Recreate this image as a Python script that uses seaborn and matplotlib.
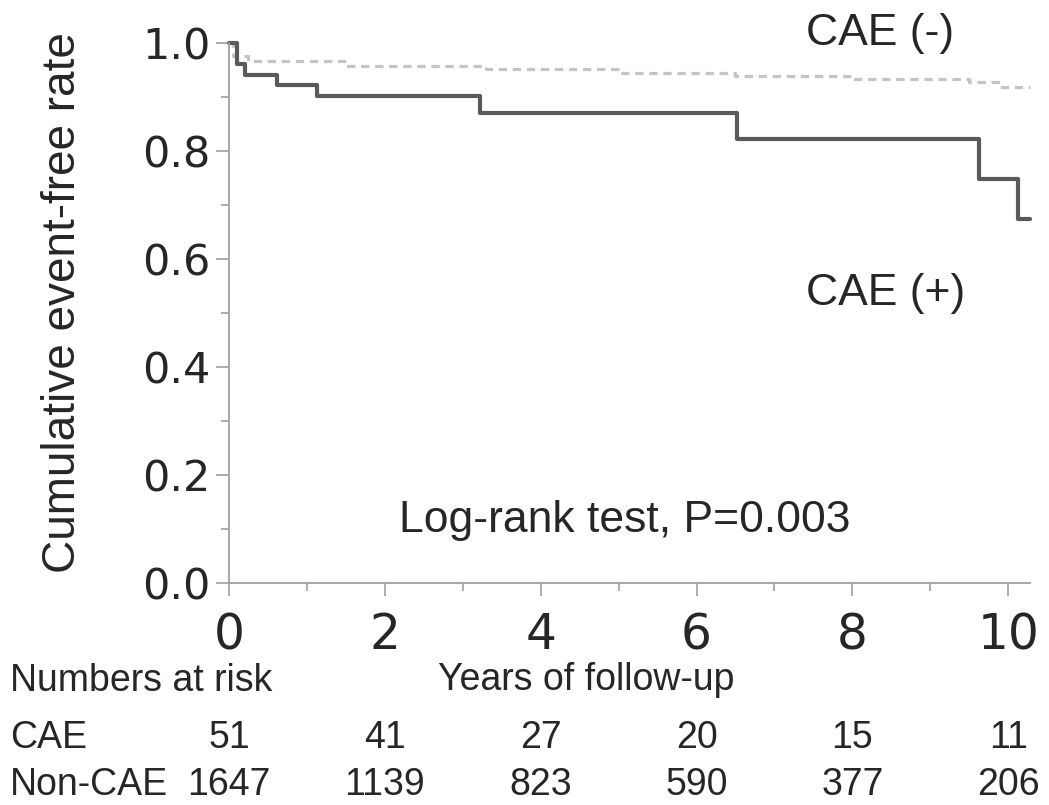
import matplotlib
matplotlib.use("Agg")
import matplotlib.pyplot as plt
import matplotlib.transforms as mtransforms
from matplotlib.ticker import MultipleLocator
import seaborn as sns
import pandas as pd

# ---- data ----
cae_pos_time = [0.0, 0.10, 0.20, 0.62, 1.13, 3.22, 6.52, 9.62, 10.13, 10.28]
cae_pos_surv = [1.0, 0.961, 0.941, 0.922, 0.902, 0.871, 0.822, 0.748, 0.674, 0.674]
cae_neg_time = [0.0, 0.05, 0.25, 1.5, 3.3, 5.0, 6.5, 8.0, 9.5, 9.9, 10.28]
cae_neg_surv = [1.0, 0.975, 0.966, 0.958, 0.952, 0.945, 0.938, 0.934, 0.928, 0.918, 0.918]
risk_years = [0, 2, 4, 6, 8, 10]
risk_cae = [51, 41, 27, 20, 15, 11]
risk_non_cae = [1647, 1139, 823, 590, 377, 206]
x_ticks = [0, 2, 4, 6, 8, 10]
y_ticks = [0.0, 0.2, 0.4, 0.6, 0.8, 1.0]

W, H = 1049, 805
sns.set_style("white")
plt.rcParams["font.family"] = ["Liberation Sans", "DejaVu Sans"]

fig = plt.figure(figsize=(W / 100, H / 100), dpi=100)
ax = fig.add_axes([229 / W, 1 - 583 / H, (1030 - 229) / W, (583 - 43) / H])

df_pos = pd.DataFrame({"t": cae_pos_time, "s": cae_pos_surv})
df_neg = pd.DataFrame({"t": cae_neg_time, "s": cae_neg_surv})

sns.lineplot(data=df_neg, x="t", y="s", ax=ax, drawstyle="steps-post",
             color="#c4c4c4", linewidth=2.3, linestyle=(0, (2.6, 1.8)),
             clip_on=False, estimator=None, sort=False)
sns.lineplot(data=df_pos, x="t", y="s", ax=ax, drawstyle="steps-post",
             color="#5a5a5a", linewidth=3.0, clip_on=False,
             estimator=None, sort=False)

ax.set_xlim(0, 10.28)
ax.set_ylim(0, 1.0)
ax.set_xticks(x_ticks)
ax.set_yticks(y_ticks)
ax.set_xticklabels([str(v) for v in x_ticks], fontfamily="DejaVu Sans", fontsize=35)
ax.set_yticklabels([f"{v:.1f}" for v in y_ticks], fontfamily="DejaVu Sans", fontsize=31)
ax.xaxis.set_minor_locator(MultipleLocator(1))
ax.yaxis.set_minor_locator(MultipleLocator(0.1))
ax.tick_params(axis="both", which="major", direction="out", length=9.5,
               width=1.2, color="#a0a0a0")
ax.tick_params(axis="both", which="minor", direction="out", length=5.5,
               width=1.2, color="#a0a0a0")
ax.tick_params(axis="x", which="major", pad=11)
ax.tick_params(axis="y", which="major", pad=4)
ax.tick_params(axis="both", which="both", bottom=True, left=True)
for side in ["top", "right"]:
    ax.spines[side].set_visible(False)
for side in ["left", "bottom"]:
    ax.spines[side].set_color("#a0a0a0")
    ax.spines[side].set_linewidth(1.3)
ax.set_xlabel("")
ax.set_ylabel("")

def px(x, y):
    return x / W, 1 - y / H

# annotations
fig.text(*px(806, 45), "CAE (-)", fontsize=32, ha="left", va="baseline")
fig.text(*px(806, 305), "CAE (+)", fontsize=32, ha="left", va="baseline")
fig.text(*px(399, 532), "Log-rank test, P=0.003", fontsize=32, ha="left", va="baseline")
fig.text(*px(63, 303), "Cumulative event-free rate", fontsize=33, rotation=90,
         ha="center", va="center")

# numbers at risk
fig.text(*px(10, 691), "Numbers at risk", fontsize=27, ha="left", va="baseline")
fig.text(*px(438, 690), "Years of follow-up", fontsize=27, ha="left", va="baseline")
fig.text(*px(10, 748), "CAE", fontsize=27, ha="left", va="baseline")
fig.text(*px(10, 795), "Non-CAE", fontsize=27, ha="left", va="baseline")

trans = mtransforms.blended_transform_factory(ax.transData, fig.transFigure)
for yr, a, b in zip(risk_years, risk_cae, risk_non_cae):
    ax.text(yr, 1 - 748 / H, str(a), transform=trans, fontsize=27,
            ha="center", va="baseline", clip_on=False)
    ax.text(yr, 1 - 795 / H, str(b), transform=trans, fontsize=27,
            ha="center", va="baseline", clip_on=False)

fig.savefig("out.png", dpi=100)
